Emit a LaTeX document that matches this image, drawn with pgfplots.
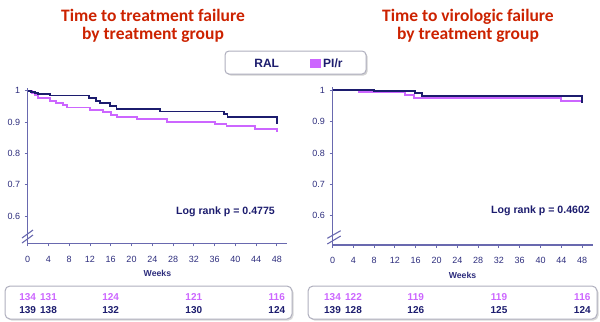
\documentclass[border=0pt]{standalone}
\usepackage{pgfplots}
\pgfplotsset{compat=1.18}
\usepackage{fontspec}
\setmainfont{Liberation Sans}
\newfontfamily\carlito{Carlito}
\definecolor{navy}{RGB}{28,28,110}
\definecolor{vio}{RGB}{204,102,255}
\definecolor{axiscol}{RGB}{105,105,175}
\definecolor{ticktext}{RGB}{45,45,125}
\definecolor{titlered}{RGB}{204,34,0}
\definecolor{boxcol}{RGB}{175,175,190}
\pgfplotsset{kmstyle/.style={
  scale only axis, xmin=0, xmax=50, ymax=1.01,
  axis lines=left, axis line style={-,color=axiscol,line width=1.3bp},
  xtick={0,4,...,48}, ytick={0.6,0.7,0.8,0.9,1},
  tick align=outside, major tick length=3bp,
  tick style={color=axiscol,line width=0.9bp},
  ticklabel style={font=\fontsize{9bp}{10bp}\selectfont, text=ticktext},
  xticklabel style={yshift=-6bp},
  yticklabel style={xshift=-1bp},
  /pgf/number format/assume math mode=true,
  xlabel={Weeks},
  xlabel style={font=\fontsize{8.7bp}{10bp}\selectfont\bfseries, text=ticktext, at={(axis description cs:0.5,0)}, anchor=center, yshift=-30bp},
  clip=false,
}}
\begin{document}
\begin{tikzpicture}
\begin{scope}[x=1bp,y=1bp]
\path[use as bounding box] (0,0) rectangle (600,321);
% titles
\begin{scope}[every node/.style={anchor=base, text=titlered, font=\carlito\bfseries\fontsize{17.5bp}{20bp}\selectfont}]
\node at (153,321-21.5) {Time to treatment failure};
\node at (153,321-39) {by treatment group};
\node at (468,321-21.5) {Time to virologic failure};
\node at (468,321-39) {by treatment group};
\end{scope}
% legend box
\fill[gray!35, rounded corners=4bp] (226.5,321-52.5) rectangle (367.5,321-75.5);
\draw[boxcol, fill=white, line width=1bp, rounded corners=4bp] (225,321-51) rectangle (366,321-74);
\node[anchor=base, text=navy, font=\bfseries\fontsize{12bp}{13bp}\selectfont] at (266.7,321-67) {RAL};
\fill[vio] (309.5,321-58.5) rectangle (320.5,321-67.5);
\node[anchor=base west, inner sep=0pt, text=navy, font=\bfseries\fontsize{12bp}{13bp}\selectfont] at (323,321-67) {PI/r};
\end{scope}

% left axis
\begin{axis}[kmstyle, at={(27.7bp,77.7bp)}, anchor=south west,
  width=259.5bp, height=155.6bp, ymin=0.513]
\addplot[const plot, vio, line width=1.8bp] coordinates {
(0,1) (0.8,0.993) (1.4,0.987) (2.0,0.976) (4.3,0.967) (5.5,0.961) (6.8,0.954) (7.5,0.947) (12,0.940) (14.5,0.933) (16,0.924) (17.2,0.917) (21,0.910) (26.8,0.901) (36.1,0.894) (38.3,0.887) (43.8,0.879) (48,0.868)};
\addplot[const plot, navy, line width=1.8bp] coordinates {
(0,1) (0.7,0.996) (1.4,0.993) (2,0.990) (4.3,0.985) (11.8,0.978) (13.2,0.968) (14.0,0.960) (15.9,0.951) (17.1,0.942) (25.5,0.934) (37.8,0.925) (38.5,0.916) (48,0.895)};
\end{axis}
% right axis
\begin{axis}[kmstyle, at={(332.5bp,76bp)}, anchor=south west,
  width=260bp, height=157.8bp, ymin=0.506]
\addplot[const plot, vio, line width=1.8bp] coordinates {
(0,1) (5,0.995) (14,0.985) (15.6,0.975) (44,0.967) (48,0.958)};
\addplot[const plot, navy, line width=1.8bp] coordinates {
(0,1) (8,0.998) (15.9,0.991) (17.2,0.983) (48,0.960)};
\end{axis}

\begin{scope}[x=1bp,y=1bp]
% axis breaks
\draw[axiscol, line width=1.1bp] (22,321-238) -- (33,321-230);
\draw[axiscol, line width=1.1bp] (22,321-243) -- (33,321-235);
\draw[axiscol, line width=1.1bp] (327.3,321-238.3) -- (340.7,321-230.7);
\draw[axiscol, line width=1.1bp] (327.3,321-244) -- (340.7,321-236);
% log rank
\node[text=navy, font=\bfseries\fontsize{10.6bp}{12bp}\selectfont] at (225.5,321-211.7) {Log rank p = 0.4775};
\node[text=navy, font=\bfseries\fontsize{10.6bp}{12bp}\selectfont] at (540.5,321-211) {Log rank p = 0.4602};
% at-risk boxes
\fill[gray!30, rounded corners=5bp] (6.5,321-287.5) rectangle (293.5,321-320.5);
\draw[boxcol, fill=white, line width=1bp, rounded corners=5bp] (5,321-286) rectangle (292,321-319);
\fill[gray!30, rounded corners=5bp] (309.5,321-287.5) rectangle (598.5,321-320.5);
\draw[boxcol, fill=white, line width=1bp, rounded corners=5bp] (308,321-286) rectangle (597,321-319);
\begin{scope}[every node/.style={anchor=base, font=\bfseries\fontsize{10bp}{11bp}\selectfont}]
\node[text=vio] at (27.7,321-300) {134};
\node[text=vio] at (48.5,321-300) {131};
\node[text=vio] at (110.7,321-300) {124};
\node[text=vio] at (193.8,321-300) {121};
\node[text=vio] at (276.8,321-300) {116};
\node[text=navy] at (27.7,321-313) {139};
\node[text=navy] at (48.5,321-313) {138};
\node[text=navy] at (110.7,321-313) {132};
\node[text=navy] at (193.8,321-313) {130};
\node[text=navy] at (276.8,321-313) {124};
\node[text=vio] at (332.5,321-300) {134};
\node[text=vio] at (353.5,321-300) {122};
\node[text=vio] at (415.8,321-300) {119};
\node[text=vio] at (499,321-300) {119};
\node[text=vio] at (582.3,321-300) {116};
\node[text=navy] at (332.5,321-313) {139};
\node[text=navy] at (353.5,321-313) {128};
\node[text=navy] at (415.8,321-313) {126};
\node[text=navy] at (499,321-313) {125};
\node[text=navy] at (582.3,321-313) {124};
\end{scope}
\end{scope}
\end{tikzpicture}
\end{document}
